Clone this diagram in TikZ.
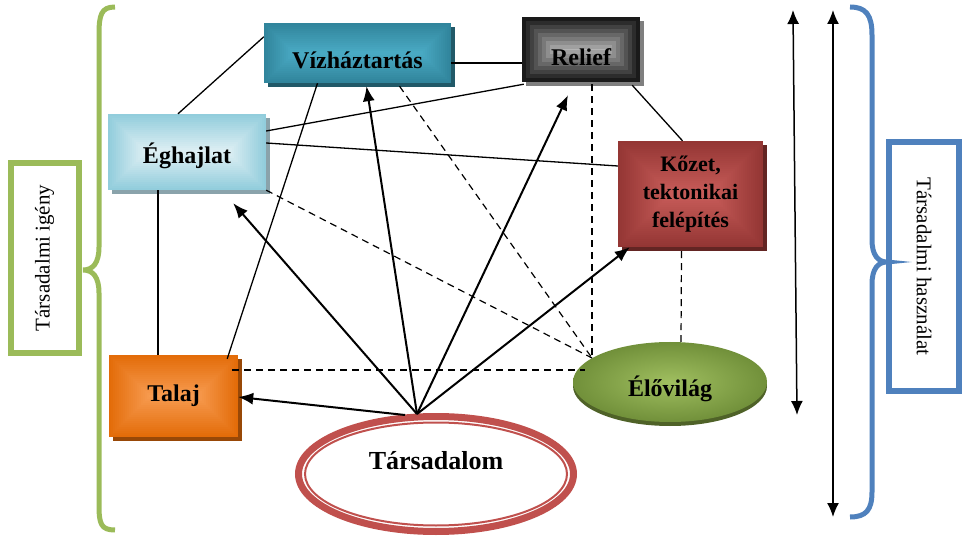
\documentclass[tikz,border=0pt]{standalone}
\usepackage{fontspec}
\setmainfont{Liberation Serif}
\usetikzlibrary{calc,arrows.meta,shapes.geometric}
\definecolor{vizO}{HTML}{31859C}
\definecolor{vizI}{HTML}{4BACC6}
\definecolor{vizS}{HTML}{215968}
\definecolor{relO}{HTML}{1A1A1A}
\definecolor{relI}{HTML}{B4B4B4}
\definecolor{relS}{HTML}{7F7F7F}
\definecolor{eghO}{HTML}{92CDDC}
\definecolor{eghI}{HTML}{E2F1F5}
\definecolor{eghS}{HTML}{8AA3AB}
\definecolor{kozO}{HTML}{943634}
\definecolor{kozI}{HTML}{C65B58}
\definecolor{kozS}{HTML}{632523}
\definecolor{talO}{HTML}{E36C09}
\definecolor{talI}{HTML}{F79B50}
\definecolor{talS}{HTML}{984807}
\definecolor{eloO}{HTML}{71903A}
\definecolor{eloI}{HTML}{A0BF60}
\definecolor{eloS}{HTML}{4F6228}
\definecolor{tarsR}{HTML}{C0504D}
\definecolor{igGreen}{HTML}{9BBB59}
\definecolor{haBlue}{HTML}{4F81BD}
\pgfdeclarelayer{bg}
\pgfsetlayers{bg,main}
\tikzset{
  rgrad/.style n args={4}{fill=#1, path picture={
    \foreach \i in {0,...,#3}{
      \pgfmathtruncatemacro\pc{100*\i/#3}
      \fill[#2!\pc!#1] ([shift={(\i*#4pt,\i*#4pt)}]path picture bounding box.south west) rectangle ([shift={(-\i*#4pt,-\i*#4pt)}]path picture bounding box.north east);
    }}},
  boxnode/.style={rectangle, inner sep=0pt, text=black, align=center, font=\bfseries\fontsize{24}{28}\selectfont},
  thinline/.style={line width=1.3pt, black},
  dashline/.style={line width=1.2pt, black, dash pattern=on 7pt off 5pt},
  bigarrow/.style={line width=2pt, black, -{Latex[length=15pt,width=12pt]}},
  dblarrow/.style={line width=1.5pt, black, {Latex[length=14pt,width=12pt]}-{Latex[length=14pt,width=12pt]}},
  bracegreen/.style={line width=5pt, igGreen},
  braceblue/.style={line width=5pt, haBlue},
  sidelabel/.style={rectangle, line width=6pt, fill=white, inner sep=0pt, font=\fontsize{21}{25}\selectfont}
}
\begin{document}
\begin{tikzpicture}[x=1pt,y=-1pt]
\useasboundingbox (0,0) rectangle (967,537);

% boxes
\node[boxnode, rgrad={vizO}{vizI}{15}{2}, minimum width=187pt, minimum height=60pt, text height=32pt, text depth=0pt] (viz) at (357.5,53) {Vízháztartás};
\node[boxnode, rgrad={relO}{relI}{8}{4}, minimum width=118pt, minimum height=65pt, text height=32pt, text depth=0pt] (relief) at (581,49.5) {Relief};
\node[boxnode, rgrad={eghO}{eghI}{19}{2}, minimum width=158pt, minimum height=76pt, text height=28pt, text depth=5pt] (egh) at (187,152) {Éghajlat};
\node[boxnode, rgrad={kozO}{kozI}{25}{2}, minimum width=145pt, minimum height=106pt, font=\bfseries\fontsize{22}{28}\selectfont] (kozet) at (690.5,194) {Kőzet,\\tektonikai\\felépítés};
\node[boxnode, rgrad={talO}{talI}{20}{2}, minimum width=129pt, minimum height=82pt] (talaj) at (173.5,396) {Talaj};
\node[ellipse, inner sep=0pt, shade, inner color=eloI, outer color=eloO, minimum width=194pt, minimum height=80pt, font=\bfseries\fontsize{24}{28}\selectfont, text height=30pt, text depth=2pt] (elo) at (670,382) {Élővilág};
\node[ellipse, inner sep=0pt, draw=tarsR, line width=7pt, fill=white, minimum width=275pt, minimum height=115pt, font=\bfseries\fontsize{26}{28}\selectfont, text height=17pt, text depth=27pt] (tars) at (436,474) {Társadalom};
\draw[tarsR, line width=2pt] (tars.center) ellipse [x radius=131pt, y radius=51.5pt];

% shadows
\begin{pgfonlayer}{bg}
  \fill[vizS] ([shift={(4pt,-4pt)}]viz.south west) rectangle ([shift={(4pt,-4pt)}]viz.north east);
  \fill[relS] ([shift={(4pt,-4pt)}]relief.south west) rectangle ([shift={(4pt,-4pt)}]relief.north east);
  \fill[eghS] ([shift={(4pt,-4pt)}]egh.south west) rectangle ([shift={(4pt,-4pt)}]egh.north east);
  \fill[kozS] ([shift={(4pt,-4pt)}]kozet.south west) rectangle ([shift={(4pt,-4pt)}]kozet.north east);
  \fill[talS] ([shift={(4pt,-4pt)}]talaj.south west) rectangle ([shift={(4pt,-4pt)}]talaj.north east);
  \fill[eloS] ([yshift=-4pt]elo.center) ellipse [x radius=97pt, y radius=40pt];
\end{pgfonlayer}

% side labels and braces
\node[sidelabel, draw=igGreen, rotate=90, minimum width=190pt, minimum height=68pt] (igeny) at (44.5,258) {Társadalmi igény};
\node[sidelabel, draw=haBlue, rotate=-90, minimum width=249pt, minimum height=70pt] (haszn) at (924,266.5) {Társadalmi használat};

\coordinate (lbtop) at (115,7);
\coordinate (lbtip) at (83,270);
\coordinate (lbbot) at (115,530);
\draw[bracegreen] (lbtop) .. controls (101,7) and (99,15) .. (99,35) -- (99,247) .. controls (99,263) and (93,270) .. (lbtip) .. controls (93,270) and (99,277) .. (99,293) -- (99,505) .. controls (99,524) and (101,530) .. (lbbot);

\coordinate (rbtop) at (850,7);
\coordinate (rbtip) at (887,262);
\coordinate (rbbot) at (850,517);
\draw[braceblue] (rbtop) .. controls (866,7) and (872,15) .. (872,35) -- (872,240) .. controls (872,255) and (878,262) .. (rbtip) .. controls (878,262) and (872,269) .. (872,284) -- (872,492) .. controls (872,510) and (866,517) .. (rbbot);

% right double arrows
\coordinate (a1t) at (793,10);
\coordinate (a1b) at (797,415);
\coordinate (a2t) at (833,10);
\coordinate (a2b) at (833,517);
\draw[dblarrow] (a1t) -- (a1b);
\draw[dblarrow] (a2t) -- (a2b);

% thin solid connections
\draw[thinline] ($(egh.north)+(-9,0)$) -- ($(viz.north west)+(0,14)$);
\draw[thinline] ($(viz.east)+(0,10)$) -- ($(relief.west)+(0,13.5)$);
\draw[thinline] ($(egh.east)+(0,-21)$) -- ($(relief.south west)+(2,2)$);
\draw[thinline] ($(egh.east)+(0,-9)$) -- ($(kozet.west)+(0,-28)$);
\draw[thinline] ($(relief.south east)+(-8,3)$) -- ($(kozet.north)+(-8,0)$);
\draw[thinline] ($(egh.south)+(-29,0)$) -- ($(talaj.north)+(-15.5,0)$);
\draw[thinline] ($(viz.south)+(-40,0)$) -- ($(talaj.north east)+(-11,4)$);

% dashed connections
\coordinate (P) at ($(elo.center)+(-78,-24)$);
\draw[dashline] ($(viz.south)+(42,3)$) -- (P);
\draw[dashline] (egh.south east) -- (P);
\draw[dashline] ($(relief.south)+(11,2)$) -- (P);
\draw[dashline] ($(kozet.south)+(-9,4)$) -- ($(elo.north)+(11,0)$);
\draw[dashline] ($(talaj.east)+(-6,-26)$) -- ($(elo.west)+(12,-12)$);

% arrows from Tarsadalom
\coordinate (src) at ($(tars.north)+(-19,1)$);
\coordinate (src2) at ($(tars.north)+(-31,2)$);
\draw[bigarrow] (src2) -- ($(talaj.east)+(0,1)$);
\draw[bigarrow] (src) -- ($(egh.south east)+(-33,13)$);
\draw[bigarrow] (src) -- ($(viz.south)+(9,3)$);
\draw[bigarrow] (src) -- ($(relief.south)+(-13,13)$);
\draw[bigarrow] (src) -- ($(kozet.south west)+(12,0)$);
\end{tikzpicture}
\end{document}
